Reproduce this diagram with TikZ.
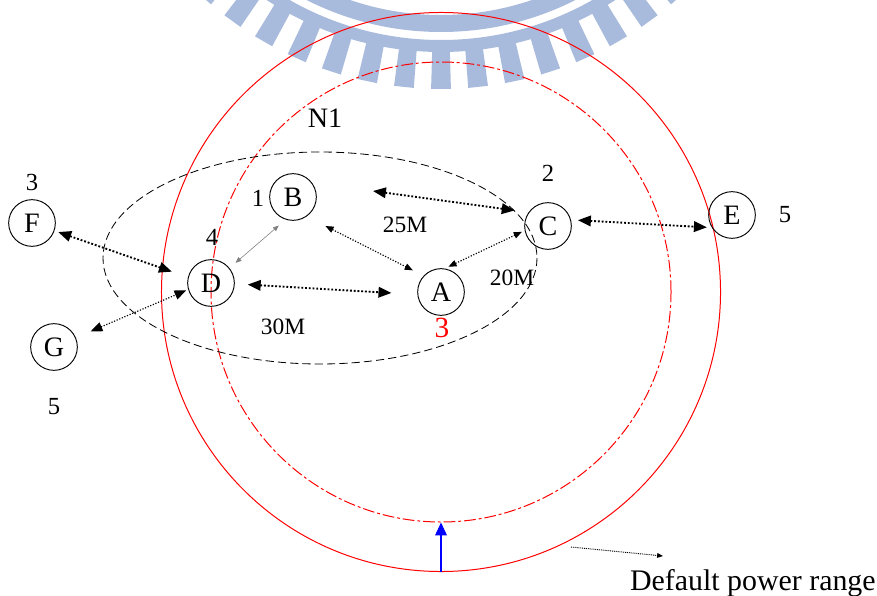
\documentclass[tikz,border=0pt]{standalone}
\usepackage{fontspec}
\setmainfont{Liberation Serif}
\usetikzlibrary{arrows.meta}
\definecolor{wmblue}{HTML}{A9BBDC}
\definecolor{pwred}{HTML}{FF0000}
\definecolor{pwblue}{HTML}{0000FF}

\begin{document}
\begin{tikzpicture}[x=0.03cm, y=-0.03cm, every node/.style={font=\fontsize{20}{24}\selectfont},
    stn/.style={circle, draw, line width=0.8pt, minimum size=1.4cm, inner sep=0pt, font=\fontsize{24}{28}\selectfont},
    num/.style={font=\fontsize{21}{25}\selectfont},
    bold link/.style={line width=1.6pt, dash pattern=on 1.6pt off 1.6pt, {Triangle[length=11pt,width=9pt]}-{Triangle[length=11pt,width=9pt]}},
    fine link/.style={line width=1pt, dash pattern=on 1pt off 1.4pt, {Triangle[length=7pt,width=5.5pt]}-{Triangle[length=7pt,width=5.5pt]}}]
        \useasboundingbox (0,0) rectangle (877,596);
        % watermark
        \begin{scope}[shift={(441,-266)}]
          \fill[wmblue, even odd rule] (0,0) circle[radius=298] (0,0) circle[radius=281];
          \fill[wmblue, even odd rule] (0,0) circle[radius=318] (0,0) circle[radius=306];
          \foreach \a in {48,54,...,132}{\fill[wmblue] ({\a-1.6}:317) -- ({\a-1.6}:355) -- ({\a+1.6}:355) -- ({\a+1.6}:317) -- cycle;}
        \end{scope}
        % power ranges
        \node[circle, draw=pwred, line width=0.85pt, minimum size=16.77cm, inner sep=0pt] (outer) at (441,292) {};
        \node[circle, draw=pwred, line width=0.85pt, dash pattern=on 10pt off 2.5pt on 2.5pt off 2.5pt, minimum size=13.8cm, inner sep=0pt] (inner) at (441,292) {};
        \draw[line width=0.7pt, dash pattern=on 7pt off 3.5pt] (320,258) ellipse [x radius=217, y radius=106];
        % stations
        \node[stn] (a) at (441,292) {A};
        \node[stn] (b) at (293,197) {B};
        \node[stn] (c) at (548,226) {C};
        \node[stn] (d) at (211,283) {D};
        \node[stn] (e) at (732,215) {E};
        \node[stn] (f) at (32,223) {F};
        \node[stn] (g) at (54,347) {G};
        \node[num] (nf) at (32,182) {3};
        \node[num] (nb) at (258,198) {1};
        \node[num] (nd) at (212,237) {4};
        \node[num] (nc) at (548,173) {2};
        \node[num] (ne) at (785,215) {5};
        \node[num] (ng) at (54,407) {5};
        \node[text=pwred, font=\fontsize{25}{30}\selectfont] (na) at (442,328) {3};
        \node[font=\fontsize{24}{28}\selectfont] (n1) at (325,118) {N1};
        \node (m25) at (405,225) {25M};
        \node (m20) at (512,278) {20M};
        \node (m30) at (283,327) {30M};
        \node[anchor=base west, font=\fontsize{25.5}{30}\selectfont] (dpr) at (626,590) {Default power range};
        % links
        \coordinate (bcend) at (373,191);
        \coordinate (dprs) at (571,547);
        \coordinate (dpre) at (663,556);
        \foreach \p/\q/\s/\t in {f.-19/d.166/0.12cm/0.51cm,d.-2/a.186/0.39cm/0.78cm,c.15/e.212/0.21cm/0.15cm,bcend/c.145/0cm/0.42cm}{\draw[bold link, shorten <=\s, shorten >=\t] (\p) -- (\q);}
        \draw[fine link, {Triangle[length=10pt,width=8pt]}-{Triangle[length=10pt,width=8pt]}, shorten <=0.48cm, shorten >=0.06cm] (g.23) -- (d.-164);
        \foreach \p/\q/\s/\t in {b.-55/a.137/0.63cm/0.36cm,a.81/c.191/0.12cm/0.09cm}{\draw[fine link, shorten <=\s, shorten >=\t] (\p) -- (\q);}
        \draw[gray, line width=0.5pt, {Triangle[length=5pt,width=4pt]}-{Triangle[length=5pt,width=4pt]}, shorten <=0.24cm, shorten >=0.27cm] (d.39) -- (b.-108);
        \draw[pwblue, line width=0.9pt, -{Triangle[length=11pt,width=10pt]}] (outer.south) -- (inner.south);
        \draw[line width=0.8pt, dash pattern=on 0.8pt off 0.8pt, -{Triangle[length=5pt,width=4pt]}] (dprs) -- (dpre);
      \end{tikzpicture}
\end{document}
